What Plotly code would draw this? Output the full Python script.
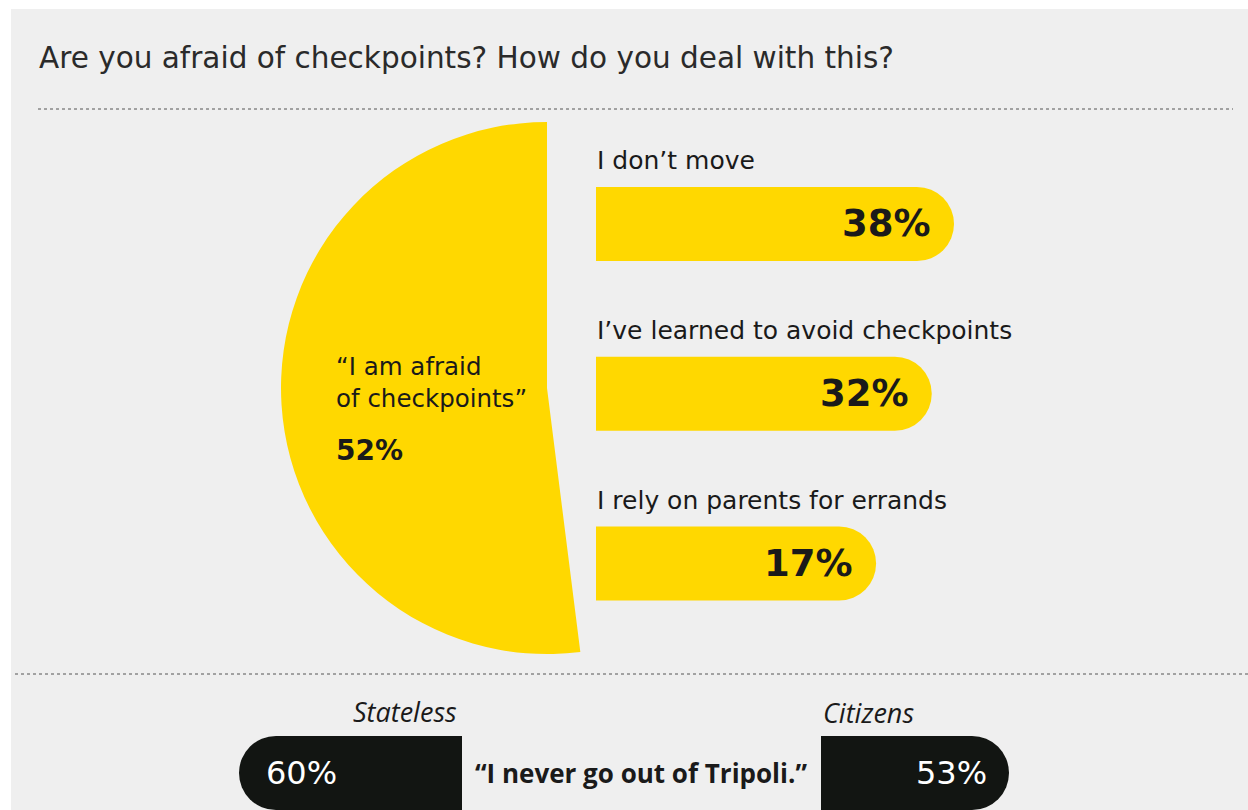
import plotly.graph_objects as go

W, H = 1248, 810

# ---- data ----
title_text = "Are you afraid of checkpoints? How do you deal with this?"
pie_labels = ["Not afraid", "I am afraid of checkpoints"]
pie_values = [48, 52]
bar_categories = ["I don’t move", "I’ve learned to avoid checkpoints", "I rely on parents for errands"]
bar_values = [38, 32, 17]
group_labels = ["Stateless", "Citizens"]
group_values = [60, 53]
group_statement = "“I never go out of Tripoli.”"

YELLOW = "#FFD800"
DARK = "#121512"
BG = "#EFEFEF"
TEXT = "#1a1a1a"
MAIN_FONT = "DejaVu Sans"
SUB_FONT = "Open Sans"

def px(x):
    return x / W

def py(y):
    return 1 - y / H

BAR_OFFSET = 58.5  # non-zero baseline of the infographic bars (layout constant)

fig = go.Figure()

# pie (only the 52% slice visible)
fig.add_trace(go.Pie(
    labels=pie_labels, values=pie_values, sort=False,
    direction="clockwise", rotation=0,
    marker=dict(colors=["rgba(0,0,0,0)", YELLOW], line=dict(width=0)),
    textinfo="none", hoverinfo="skip", showlegend=False,
    domain=dict(x=[px(281), px(813)], y=[py(654), py(122)]),
))

# top horizontal bars
bar_lengths = [v + BAR_OFFSET for v in bar_values]
fig.add_trace(go.Bar(
    y=bar_categories, x=bar_lengths,
    orientation="h", width=0.436,
    marker=dict(color=YELLOW, line=dict(width=0), cornerradius="50%"),
    xaxis="x", yaxis="y", showlegend=False, hoverinfo="skip",
))

# bottom pills
fig.add_trace(go.Bar(
    y=[group_statement], x=[group_values[0]], orientation="h", width=1,
    marker=dict(color=DARK, line=dict(width=0), cornerradius="50%"),
    xaxis="x2", yaxis="y2", showlegend=False, hoverinfo="skip",
))
fig.add_trace(go.Bar(
    y=[group_statement], x=[group_values[1]], orientation="h", width=1,
    marker=dict(color=DARK, line=dict(width=0), cornerradius="50%"),
    xaxis="x3", yaxis="y2", showlegend=False, hoverinfo="skip",
))

annotations = []
# title
annotations.append(dict(text=title_text, x=px(37), y=py(58), xref="paper", yref="paper",
                        xanchor="left", yanchor="middle", showarrow=False,
                        font=dict(family=MAIN_FONT, size=29.5, color="#2a2a2a")))
# pie labels
annotations.append(dict(text="“I am afraid<br>of checkpoints”", x=px(334), y=py(383), xref="paper", yref="paper",
                        xanchor="left", yanchor="middle", align="left", showarrow=False,
                        font=dict(family=MAIN_FONT, size=24.5, color=TEXT)))
annotations.append(dict(text=f"<b>{pie_values[1]}%</b>", x=px(334), y=py(450), xref="paper", yref="paper",
                        xanchor="left", yanchor="middle", showarrow=False,
                        font=dict(family=MAIN_FONT, size=28, color=TEXT)))
# bar labels and values
for cat, v, ln in zip(bar_categories, bar_values, bar_lengths):
    annotations.append(dict(text=cat, x=0, y=cat, xref="x", yref="y",
                            xanchor="left", yanchor="middle", yshift=63, xshift=-1, showarrow=False,
                            font=dict(family=MAIN_FONT, size=25, color=TEXT)))
    annotations.append(dict(text=f"<b>{v}%</b>", x=ln, y=cat, xref="x", yref="y",
                            xanchor="right", yanchor="middle", xshift=-21, showarrow=False,
                            font=dict(family=MAIN_FONT, size=37, color=TEXT)))
# bottom section
annotations.append(dict(text=f"<i>{group_labels[0]}</i>", x=px(459), y=py(711), xref="paper", yref="paper",
                        xanchor="right", yanchor="middle", showarrow=False,
                        font=dict(family=SUB_FONT, size=27, color=TEXT)))
annotations.append(dict(text=f"<i>{group_labels[1]}</i>", x=px(821), y=py(712), xref="paper", yref="paper",
                        xanchor="left", yanchor="middle", showarrow=False,
                        font=dict(family=SUB_FONT, size=27, color=TEXT)))
annotations.append(dict(text=f"<b>{group_statement}</b>", x=px(641), y=py(773), xref="paper", yref="paper",
                        xanchor="center", yanchor="middle", showarrow=False,
                        font=dict(family=SUB_FONT, size=26, color=TEXT)))
annotations.append(dict(text=f"{group_values[0]}%", x=px(264), y=py(773), xref="paper", yref="paper",
                        xanchor="left", yanchor="middle", showarrow=False,
                        font=dict(family=MAIN_FONT, size=32, color="white")))
annotations.append(dict(text=f"{group_values[1]}%", x=px(989), y=py(773), xref="paper", yref="paper",
                        xanchor="right", yanchor="middle", showarrow=False,
                        font=dict(family=MAIN_FONT, size=32, color="white")))

shapes = [
    dict(type="rect", xref="paper", yref="paper", x0=px(11), x1=1, y0=0, y1=py(9),
         fillcolor=BG, line=dict(width=0), layer="below"),
    dict(type="line", xref="paper", yref="paper", x0=px(38), x1=px(1233), y0=py(109), y1=py(109),
         line=dict(color="#555555", width=1, dash="dot"), layer="below"),
    dict(type="line", xref="paper", yref="paper", x0=px(15), x1=1, y0=py(674), y1=py(674),
         line=dict(color="#555555", width=1, dash="dot"), layer="below"),
]

hidden = dict(visible=False, showgrid=False, zeroline=False, fixedrange=True)

fig.update_layout(
    width=W, height=H,
    margin=dict(l=0, r=0, t=0, b=0),
    paper_bgcolor="white", plot_bgcolor="rgba(0,0,0,0)",
    showlegend=False, barmode="overlay",
    xaxis=dict(domain=[px(596), 1], range=[0, (W - 596) / 3.71], anchor="y", **hidden),
    yaxis=dict(domain=[py(648.4), py(139.1)], range=[2.5, -0.5], type="category", anchor="x", **hidden),
    xaxis2=dict(domain=[0, px(462)], range=[462 / (223 / 60), 0], anchor="y2", **hidden),
    xaxis3=dict(domain=[px(821), 1], range=[0, (W - 821) / (188 / 53)], anchor="y2", **hidden),
    yaxis2=dict(domain=[0, py(736)], range=[-0.5, 0.5], type="category", anchor="x2", **hidden),
    annotations=annotations,
    shapes=shapes,
)

fig.write_html("out.html", config={"displayModeBar": False},
               post_script="document.body.style.margin='0';document.body.style.overflow='hidden';")
